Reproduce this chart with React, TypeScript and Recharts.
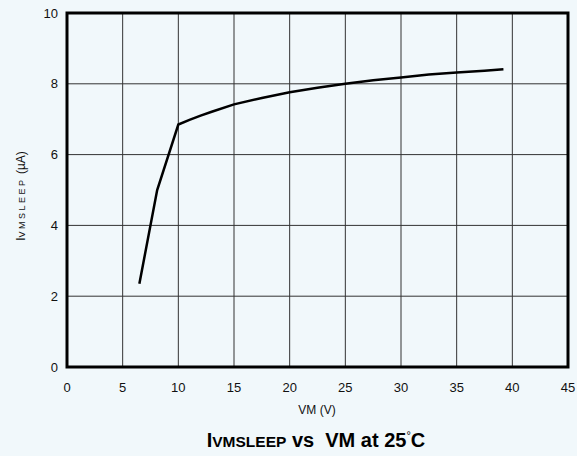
import { LineChart, Line, XAxis, YAxis, CartesianGrid, ReferenceArea } from 'recharts'

const vm = [6.5, 8.1, 10, 11, 12, 13, 15, 17.5, 20, 22.5, 25, 27.5, 30, 32.5, 35, 37.5, 39.2]
const iSleep = [2.35, 5.0, 6.85, 6.98, 7.1, 7.21, 7.42, 7.6, 7.76, 7.89, 8.0, 8.1, 8.18, 8.26, 8.32, 8.37, 8.41]
const xTicks = [0, 5, 10, 15, 20, 25, 30, 35, 40, 45]
const yTicks = [0, 2, 4, 6, 8, 10]

const data = vm.map((v, i) => ({ vm: v, i: iSleep[i] }))

const BG = '#F1F8FB'
const FONT = '"Liberation Sans", Arial, sans-serif'
const tickStyle = { fill: '#111', fontSize: 13, fontFamily: FONT }

export default function App() {
  return (
    <div style={{ position: 'fixed', left: 0, top: 0, width: 577, height: 456, background: BG }}>
      <LineChart width={577} height={456} data={data} margin={{ top: 13, right: 9, bottom: 59, left: 0 }}>
        <CartesianGrid stroke="#333" strokeWidth={1} />
        <XAxis
          dataKey="vm"
          type="number"
          domain={[0, 45]}
          ticks={xTicks}
          tick={tickStyle}
          axisLine={false}
          tickLine={false}
          tickMargin={10}
          height={30}
          interval={0}
        />
        <YAxis
          type="number"
          domain={[0, 10]}
          ticks={yTicks}
          tick={tickStyle}
          axisLine={false}
          tickLine={false}
          tickMargin={3}
          width={67}
          interval={0}
        />
        <ReferenceArea x1={0} x2={45} y1={0} y2={10} fill="none" fillOpacity={0} stroke="#000" strokeWidth={3} />
        <Line
          type="linear"
          dataKey="i"
          stroke="#000"
          strokeWidth={2.5}
          dot={false}
          isAnimationActive={false}
        />
      </LineChart>
      <svg width={577} height={456} style={{ position: 'absolute', left: 0, top: 0, pointerEvents: 'none' }}>
        <text x={317} y={414} textAnchor="middle" fontFamily={FONT} fontSize={12} fill="#111">VM (V)</text>
        <text transform="translate(25,196) rotate(-90)" textAnchor="middle" fontFamily={FONT} fill="#111">
          <tspan fontSize={12}>I</tspan>
          <tspan fontSize={9} letterSpacing={2.5}>VMSLEEP</tspan>
          <tspan fontSize={12}> (µA)</tspan>
        </text>
        <text x={316} y={447} textAnchor="middle" fontFamily={FONT} fontWeight="bold" fill="#000">
          <tspan fontSize={20}>I</tspan>
          <tspan fontSize={15.5}>VMSLEEP</tspan>
          <tspan fontSize={20}>{' vs\u00A0\u00A0VM at 25'}</tspan>
          <tspan fontSize={11} fontWeight="normal" dy={-8}>°</tspan>
          <tspan fontSize={20} dy={8}>C</tspan>
        </text>
      </svg>
    </div>
  )
}
